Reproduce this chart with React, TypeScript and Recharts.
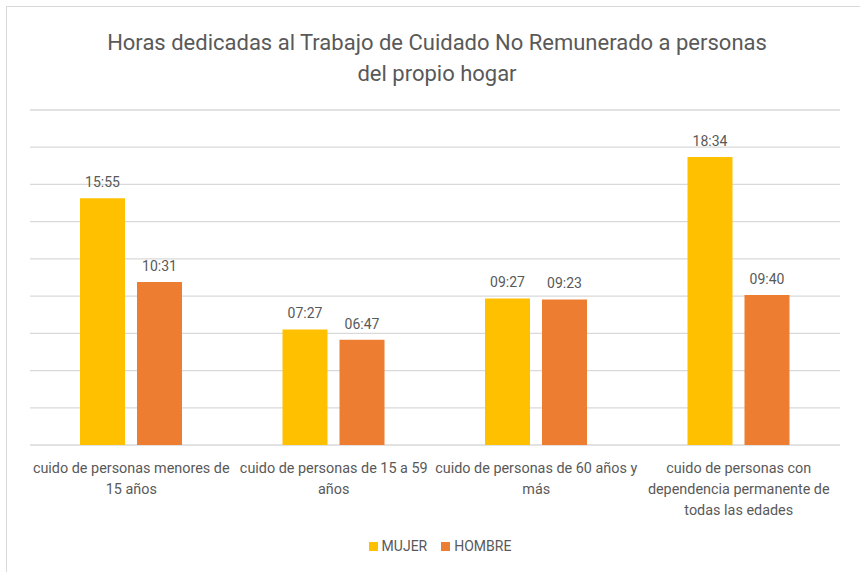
import { Bar, BarChart, CartesianGrid, LabelList, XAxis, YAxis } from "recharts";

const MUJER_COLOR = "#FFC000";
const HOMBRE_COLOR = "#ED7D31";
const TEXT = "#595959";
const FONT = "Roboto, 'Liberation Sans', sans-serif";

const categories = [
  ["cuido de personas menores de", "15 años"],
  ["cuido de personas de 15 a 59", "años"],
  ["cuido de personas de 60 años y", "más"],
  ["cuido de personas con", "dependencia permanente de", "todas las edades"],
];
const mujer = ["15:55", "07:27", "09:27", "18:34"];
const hombre = ["10:31", "06:47", "09:23", "09:40"];
// Excel time axis: one gridline every 0.1 day (2:24 h), up to 0.9 day
const yTicks = [0, 2.4, 4.8, 7.2, 9.6, 12, 14.4, 16.8, 19.2, 21.6];

const toHours = (s: string) => {
  const [h, m] = s.split(":").map(Number);
  return h + m / 60;
};

const data = categories.map((lines, i) => ({
  name: lines.join(" "),
  lines,
  mujer: toHours(mujer[i]),
  hombre: toHours(hombre[i]),
  mujerLabel: mujer[i],
  hombreLabel: hombre[i],
}));

function CatTick({ x, y, index }: { x?: number; y?: number; index?: number }) {
  const lines = categories[index ?? 0];
  return (
    <text x={x} y={y} textAnchor="middle" fill={TEXT} fontSize={14.4} fontFamily={FONT}>
      {lines.map((l, i) => (
        <tspan key={i} x={x} dy={i === 0 ? 20 : 21}>
          {l}
        </tspan>
      ))}
    </text>
  );
}

export default function App() {
  return (
    <div
      style={{
        position: "absolute",
        left: 0,
        top: 0,
        width: 860,
        height: 572,
        overflow: "hidden",
        background: "#fff",
        fontFamily: FONT,
      }}
    >
      <div
        style={{
          position: "absolute",
          left: 6,
          top: 6,
          width: 900,
          height: 600,
          border: "1px solid #d9d9d9",
        }}
      />
      <div
        style={{
          position: "absolute",
          left: 0,
          width: 874,
          top: 27,
          textAlign: "center",
          color: TEXT,
          fontSize: 22,
          lineHeight: "31px",
        }}
      >
        Horas dedicadas al Trabajo de Cuidado No Remunerado a personas
        <br />
        del propio hogar
      </div>
      <div style={{ position: "absolute", left: 0, top: 0 }}>
        <BarChart
          width={860}
          height={572}
          data={data}
          margin={{ top: 110, right: 20, bottom: 57, left: 30 }}
          barSize={45}
          barGap={12}
        >
          <CartesianGrid vertical={false} stroke="#d9d9d9" strokeWidth={1.3} />
          <XAxis
            dataKey="name"
            axisLine={false}
            tickLine={false}
            height={70}
            interval={0}
            tick={<CatTick />}
          />
          <YAxis hide domain={[0, 21.6]} ticks={yTicks} />
          <Bar dataKey="mujer" fill={MUJER_COLOR} isAnimationActive={false}>
            <LabelList
              dataKey="mujerLabel"
              position="top"
              offset={11}
              fill={TEXT}
              fontSize={14}
              fontFamily={FONT}
            />
          </Bar>
          <Bar dataKey="hombre" fill={HOMBRE_COLOR} isAnimationActive={false}>
            <LabelList
              dataKey="hombreLabel"
              position="top"
              offset={11}
              fill={TEXT}
              fontSize={14}
              fontFamily={FONT}
            />
          </Bar>
        </BarChart>
      </div>
      <div
        style={{
          position: "absolute",
          top: 538,
          left: 0,
          width: 880,
          display: "flex",
          justifyContent: "center",
          gap: 14,
          fontSize: 14,
          color: TEXT,
        }}
      >
        <span style={{ display: "flex", alignItems: "center", gap: 4 }}>
          <span style={{ width: 9, height: 9, background: MUJER_COLOR }} />
          MUJER
        </span>
        <span style={{ display: "flex", alignItems: "center", gap: 4 }}>
          <span style={{ width: 9, height: 9, background: HOMBRE_COLOR }} />
          HOMBRE
        </span>
      </div>
    </div>
  );
}
